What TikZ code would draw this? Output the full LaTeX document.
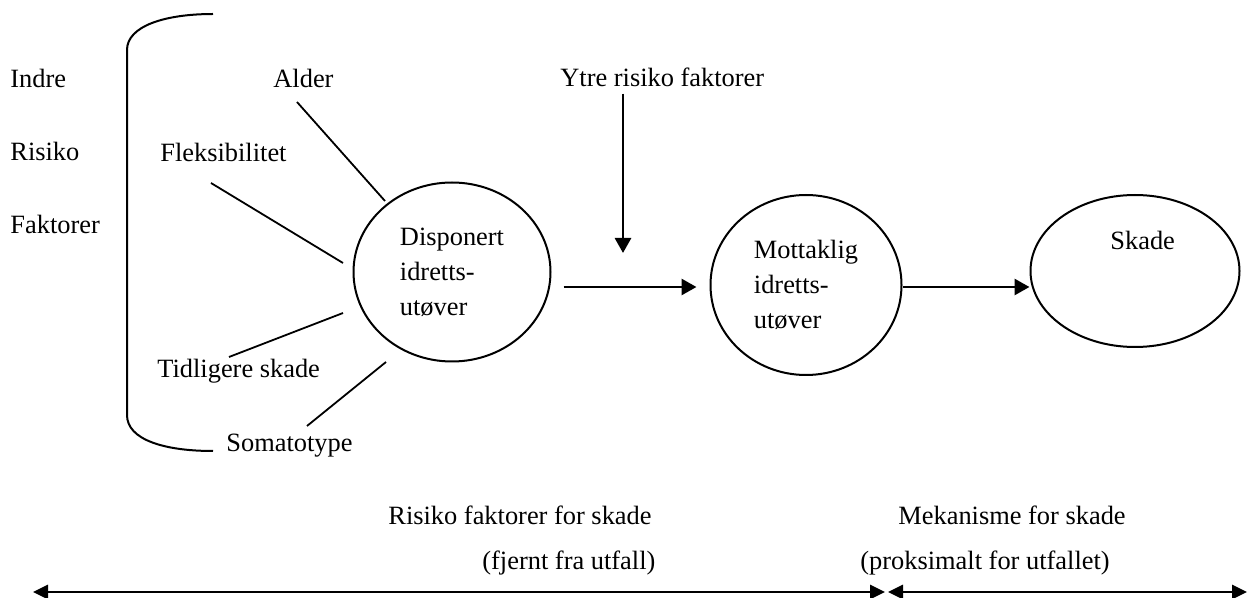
\documentclass[tikz,border=0pt]{standalone}
\usepackage{fontspec}
\setmainfont{Liberation Serif}
\usetikzlibrary{positioning, calc, arrows.meta, shapes.geometric}

\begin{document}
\begin{tikzpicture}
    [x=0.5pt, y=-0.5pt,
    every node/.style={font=\fontsize{13.2}{17.5}\selectfont},
    textnode/.style={inner sep=0pt, anchor=base west},
    ringnode/.style={ellipse, draw=black, line width=1pt, align=left, inner sep=0pt},
    spoke/.style={line width=0.9pt},
    arrowline/.style={line width=1.4pt, -{Triangle[length=7.5pt, width=8pt]}},
    spanline/.style={line width=1.4pt, {Triangle[length=7.5pt, width=7pt]}-{Triangle[length=7.5pt, width=7pt]}},]

    \useasboundingbox (0,0) rectangle (1248,598);

    %Nodes
    \node[textnode](Indre) at (10,88){Indre};
    \node[textnode](Risiko) at (10,161){Risiko};
    \node[textnode](Faktorer) at (10,234){Faktorer};

    \node[textnode](Alder) at (273,88){Alder};
    \node[textnode](Fleks) at (160,162){Fleksibilitet};
    \node[textnode](Tidl) at (157,378){Tidligere skade};
    \node[textnode](Somato) at (226,452){Somatotype};

    \node[ringnode, minimum width=98.5pt, minimum height=89.5pt](Disp) at (452,272){Disponert\\idretts-\\utøver};
    \node[ringnode, minimum width=95.5pt, minimum height=90pt](Mott) at (806,285){Mottaklig\\idretts-\\utøver};
    \node[ringnode, minimum width=104.5pt, minimum height=76pt](Skade) at (1135,271){};
    \node[textnode](SkadeText) at (1110,250){Skade};

    \node[textnode](Ytre) at (560,87){Ytre risiko faktorer};

    %Bracket
    \draw[line width=1pt] (213,14) .. controls (165,14) and (127,26) .. (127,50) -- (127,415)
        .. controls (127,440) and (165,451) .. (213,451);

    %Lines
    \coordinate (AlderA) at (297,102);  \coordinate (AlderB) at (385,201);
    \coordinate (FleksA) at (211,183);  \coordinate (FleksB) at (343,263);
    \coordinate (TidlA) at (229,357);   \coordinate (TidlB) at (343,313);
    \coordinate (SomatoA) at (307,426); \coordinate (SomatoB) at (386,362);
    \draw[spoke](AlderA)--(AlderB);
    \draw[spoke](FleksA)--(FleksB);
    \draw[spoke](TidlA)--(TidlB);
    \draw[spoke](SomatoA)--(SomatoB);

    \coordinate (YtreTip) at (623,253);
    \draw[arrowline, shorten <=3pt](Ytre.south -| YtreTip)--(YtreTip);

    \draw[arrowline, shorten <=6pt, shorten >=6.5pt](Disp.east |- 0,287)--(Mott.west |- 0,287);
    \draw[arrowline](Mott.east |- 0,287)--(Skade.west |- 0,287);

    %Labels
    \node[textnode](RisikoSkade) at (388,524){Risiko faktorer for skade};
    \node[textnode](Fjernt) at (482,569){(fjernt fra utfall)};
    \node[textnode](Mekanisme) at (898,524){Mekanisme for skade};
    \node[textnode](Proks) at (860,569){(proksimalt for utfallet)};

    \coordinate (FarLeft) at (33,592);
    \coordinate (MidLeft) at (885,592);
    \coordinate (MidRight) at (888,592);
    \coordinate (FarRight) at (1247,592);
    \draw[spanline](FarLeft)--(MidLeft);
    \draw[spanline](MidRight)--(FarRight);

\end{tikzpicture}
\end{document}
